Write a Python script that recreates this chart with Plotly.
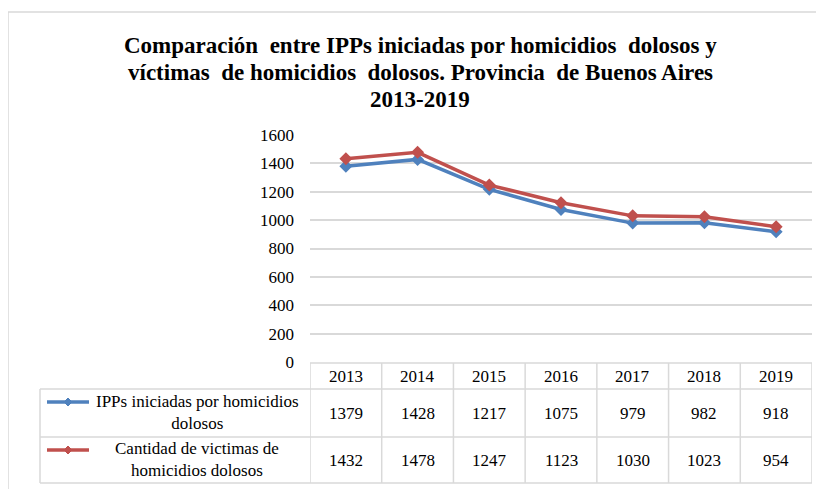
import plotly.graph_objects as go

years = ["2013", "2014", "2015", "2016", "2017", "2018", "2019"]
ipps = [1379, 1428, 1217, 1075, 979, 982, 918]
victimas = [1432, 1478, 1247, 1123, 1030, 1023, 954]
series_names = ["IPPs iniciadas por homicidios<br>dolosos",
                "Cantidad de victimas de<br>homicidios dolosos"]
colors = ["#4F81BD", "#C0504D"]
title_lines = ["Comparación\u00a0 entre IPPs iniciadas por homicidios\u00a0 dolosos y",
               "víctimas\u00a0 de homicidios\u00a0 dolosos. Provincia\u00a0 de Buenos Aires",
               "2013-2019"]

OFF = 8  # page body margin
W, H = 824 - OFF, 489 - OFF
PL, PR, PT, PB = 310, 812, 135, 362  # plot area in screen pixels


def px(x):
    return (x - PL) / (PR - PL)


def py(y):
    return (PB - y) / (PB - PT)


FONT = "Liberation Serif"
GRID = "#d9d9d9"

fig = go.Figure()
for vals, name, col in zip([ipps, victimas], series_names, colors):
    fig.add_trace(go.Scatter(
        x=years, y=vals, mode="lines+markers", name=name.replace("<br>", " "),
        line=dict(color=col, width=3.5),
        marker=dict(symbol="diamond", size=10, color=col),
        showlegend=False, cliponaxis=False))

shapes = []
frame = dict(color=GRID, width=1.5)
shapes.append(dict(type="line", xref="paper", yref="paper", x0=px(8), x1=px(830),
                   y0=py(12), y1=py(12), line=frame, layer="below"))
shapes.append(dict(type="line", xref="paper", yref="paper", x0=px(8), x1=px(8),
                   y0=py(12), y1=py(495), line=frame, layer="below"))
tline = dict(color=GRID, width=1.5)
shapes.append(dict(type="line", xref="paper", yref="paper", x0=0, x1=1,
                   y0=py(363), y1=py(363), line=tline))
for yy in [389, 437, 483]:
    shapes.append(dict(type="line", xref="paper", yref="paper", x0=px(40), x1=1,
                       y0=py(yy), y1=py(yy), line=tline))
shapes.append(dict(type="line", xref="paper", yref="paper", x0=px(40), x1=px(40),
                   y0=py(389), y1=py(483), line=tline))
for i in range(len(years) + 1):
    shapes.append(dict(type="line", xref="x", yref="paper", x0=i - 0.5, x1=i - 0.5,
                       y0=py(363), y1=py(483), line=tline))

cell_font = dict(family=FONT, size=17, color="#000")
annotations = []
row_y = [413, 460]


def ann(**kw):
    base = dict(showarrow=False, xanchor="center", yanchor="middle", align="center",
                font=cell_font)
    base.update(kw)
    annotations.append(base)


for i, yr in enumerate(years):
    ann(x=i, xref="x", y=py(376), yref="paper", text=yr)
for r, vals in enumerate([ipps, victimas]):
    for i, v in enumerate(vals):
        ann(x=i, xref="x", y=py(row_y[r]), yref="paper", text=str(v))
key_y = [402, 450]
for r in range(2):
    shapes.append(dict(type="line", xref="paper", yref="paper", x0=px(47), x1=px(89),
                       y0=py(key_y[r]), y1=py(key_y[r]),
                       line=dict(color=colors[r], width=3.5)))
    shapes.append(dict(type="path", xref="paper", yref="paper", xsizemode="pixel",
                       ysizemode="pixel", xanchor=px(68), yanchor=py(key_y[r]),
                       path="M -4 0 L 0 4 L 4 0 L 0 -4 Z",
                       fillcolor=colors[r], line=dict(color=colors[r], width=1)))
    ann(x=px(197), xref="paper", y=py(row_y[r] - 1), yref="paper", text=series_names[r])
for line_text, ly in zip(title_lines, [45, 72, 99]):
    ann(x=px(420), xref="paper", y=py(ly), yref="paper", text=line_text,
        font=dict(family=FONT, size=23, color="#000", weight="bold"))

fig.update_layout(
    width=W, height=H,
    margin=dict(l=PL - OFF, r=W - (PR - OFF), t=PT - OFF, b=H - (PB - OFF), pad=0),
    paper_bgcolor="white", plot_bgcolor="white",
    font=dict(family=FONT, size=17, color="#000"),
    xaxis=dict(type="category", range=[-0.5, 6.5], showticklabels=False,
               showgrid=False, zeroline=False, showline=False, ticks=""),
    yaxis=dict(range=[0, 1600], dtick=200, showgrid=True, gridcolor=GRID, gridwidth=1.5,
               zeroline=False, showline=False, ticks="", ticklabelstandoff=15,
               tickfont=dict(family=FONT, size=17, color="#000")),
    shapes=shapes, annotations=annotations,
)

fig.write_html("out.html")
